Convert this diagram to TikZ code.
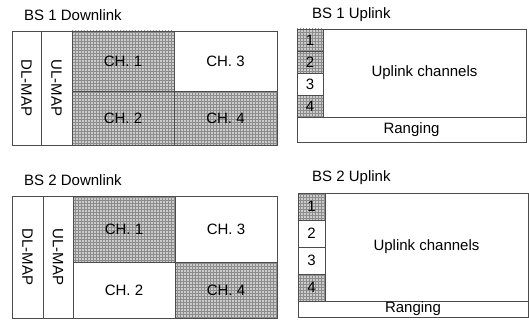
\documentclass[tikz,border=0pt]{standalone}
\usepackage{fontspec}
\setmainfont{Liberation Sans}
\usetikzlibrary{patterns}

\begin{document}
\begin{tikzpicture}[x=1pt, y=-1pt,
        cell/.style={draw=black!70, line width=0.5pt, inner sep=0pt, font=\fontsize{15}{17}\selectfont},
        shaded/.style={cell, preaction={fill=gray!40}, pattern=grid, pattern color=gray!90},
        title/.style={anchor=west, inner sep=0pt, font=\fontsize{15}{17}\selectfont}]
        \useasboundingbox (0,0) rectangle (529,329);

        \node[title] at (24,15) (dlA) {BS 1 Downlink};
        \node[cell, minimum width=114pt, minimum height=29pt, rotate=-90] at (26.5,88) (dlmapA) {DL-MAP};
        \node[cell, minimum width=114pt, minimum height=31pt, rotate=-90] at (56.5,88) (ulmapA) {UL-MAP};
        \node[shaded, minimum width=102pt, minimum height=60pt] at (123,61) (chA1) {CH. 1};
        \node[shaded, minimum width=102pt, minimum height=54pt] at (123,118) (chA2) {CH. 2};
        \node[cell, minimum width=103pt, minimum height=60pt] at (225.5,61) (chA3) {CH. 3};
        \node[shaded, minimum width=103pt, minimum height=54pt] at (225.5,118) (chA4) {CH. 4};

        \node[title] at (312,15) (ulA) {BS 1 Uplink};
        \foreach \lbl/\y/\sty in {1/40/shaded, 2/62/shaded, 3/84/cell, 4/106/shaded}
            \node[\sty, minimum width=26pt, minimum height=22pt] at (310,\y) (slotA\lbl) {\lbl};
        \node[cell, minimum width=203pt, minimum height=88pt] at (424.5,73) (upA) {Uplink channels};
        \node[cell, minimum width=229pt, minimum height=25pt] at (411.5,129.5) (rngA) {Ranging};

        \node[title] at (24,180) (dlB) {BS 2 Downlink};
        \node[cell, minimum width=122pt, minimum height=31pt, rotate=-90] at (27.5,257) (dlmapB) {DL-MAP};
        \node[cell, minimum width=122pt, minimum height=30pt, rotate=-90] at (58,257) (ulmapB) {UL-MAP};
        \node[shaded, minimum width=102pt, minimum height=66.5pt] at (124,229.25) (chB1) {CH. 1};
        \node[cell, minimum width=102pt, minimum height=55.5pt] at (124,290.25) (chB2) {CH. 2};
        \node[cell, minimum width=102pt, minimum height=66.5pt] at (226,229.25) (chB3) {CH. 3};
        \node[shaded, minimum width=102pt, minimum height=55.5pt] at (226,290.25) (chB4) {CH. 4};

        \node[title] at (312,178) (ulB) {BS 2 Uplink};
        \foreach \lbl/\y/\sty in {1/206.5/shaded, 2/233.5/cell, 3/260.5/cell, 4/287.5/shaded}
            \node[\sty, minimum width=27pt, minimum height=27pt] at (311.5,\y) (slotB\lbl) {\lbl};
        \node[cell, minimum width=203pt, minimum height=108pt] at (426.5,247) (upB) {Uplink channels};
        \node[cell, minimum width=230pt, minimum height=16pt] at (413,309) (rngB) {Ranging};
\end{tikzpicture}
\end{document}
